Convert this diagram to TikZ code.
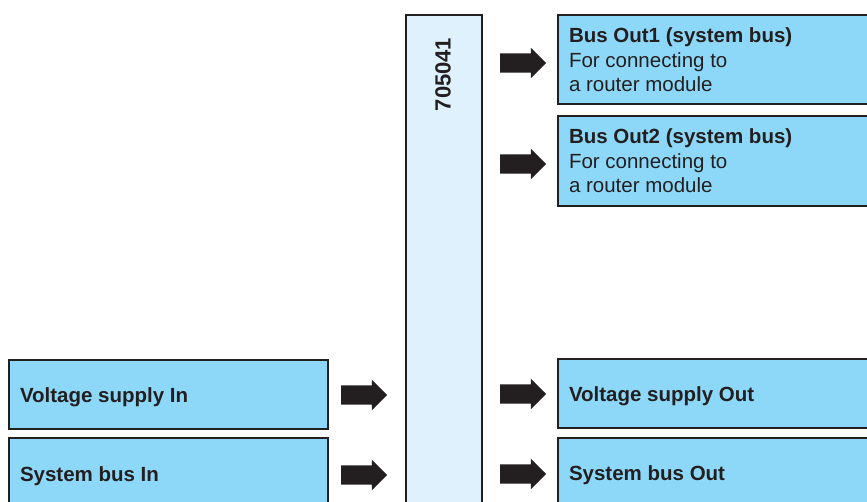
\documentclass[tikz,border=0pt]{standalone}
\usepackage{fontspec}
\setmainfont{Liberation Sans}
\usetikzlibrary{shapes.arrows}
\definecolor{boxblue}{HTML}{8DD8F8}
\definecolor{barblue}{HTML}{DFF1FC}
\definecolor{ink}{HTML}{231F20}
\begin{document}
\begin{tikzpicture}[x=1pt,y=-1pt,
  bluebox/.style={draw=ink,line width=2pt,fill=boxblue,rectangle,anchor=north west,inner sep=0pt,outer sep=0pt},
  barbox/.style={draw=ink,line width=2pt,fill=barblue,rectangle,anchor=north west,inner sep=0pt,outer sep=0pt},
  txt/.style={anchor=base west,inner sep=0pt,outer sep=0pt,text=ink,font=\fontsize{20.5}{24.5}\selectfont},
  bigarrow/.style={single arrow,fill=ink,draw=none,anchor=tip,outer sep=0pt,inner xsep=0pt,inner ysep=9.5pt,minimum height=46pt,single arrow head extend=5.5pt,single arrow head indent=0pt,single arrow tip angle=90}]
\useasboundingbox (0,0) rectangle (867,502);
\clip (0,0) rectangle (867,502);
% central bar
\node[barbox,minimum width=76pt,minimum height=520pt] (bar) at (406,15) {};
\node[rotate=90,inner sep=0pt,text=ink,font=\fontsize{22}{26}\selectfont\bfseries] (code) at (443,74.5) {705041};
% right boxes
\node[bluebox,minimum width=330pt,minimum height=89pt] (b1) at (558,15) {};
\node[bluebox,minimum width=330pt,minimum height=90pt] (b2) at (558,116) {};
\node[bluebox,minimum width=330pt,minimum height=69pt] (vout) at (558,359) {};
\node[bluebox,minimum width=330pt,minimum height=90pt] (sout) at (558,438) {};
% left boxes
\node[bluebox,minimum width=319pt,minimum height=69pt] (vin) at (9,360) {};
\node[bluebox,minimum width=319pt,minimum height=90pt] (sin) at (9,438) {};
% texts
\node[txt,font=\fontsize{20.5}{24.5}\selectfont\bfseries] (t1a) at (569,43) {Bus Out1 (system bus)};
\node[txt] (t1b) at (569,67.5) {For connecting to};
\node[txt] (t1c) at (569,92) {a router module};
\node[txt,font=\fontsize{20.5}{24.5}\selectfont\bfseries] (t2a) at (569,144) {Bus Out2 (system bus)};
\node[txt] (t2b) at (569,168.5) {For connecting to};
\node[txt] (t2c) at (569,193) {a router module};
\node[txt,font=\fontsize{20.5}{24.5}\selectfont\bfseries] (tvout) at (569,401) {Voltage supply Out};
\node[txt,font=\fontsize{20.5}{24.5}\selectfont\bfseries] (tsout) at (569,480) {System bus Out};
\node[txt,font=\fontsize{20.5}{24.5}\selectfont\bfseries] (tvin) at (20,402) {Voltage supply In};
\node[txt,font=\fontsize{20.5}{24.5}\selectfont\bfseries] (tsin) at (20,481) {System bus In};
% arrows
\node[bigarrow] (a1) at (546,63) {};
\node[bigarrow] (a2) at (546,164) {};
\node[bigarrow] (a3) at (546,394) {};
\node[bigarrow] (a4) at (546,474) {};
\node[bigarrow] (a5) at (387,395) {};
\node[bigarrow] (a6) at (387,475) {};
\end{tikzpicture}
\end{document}
